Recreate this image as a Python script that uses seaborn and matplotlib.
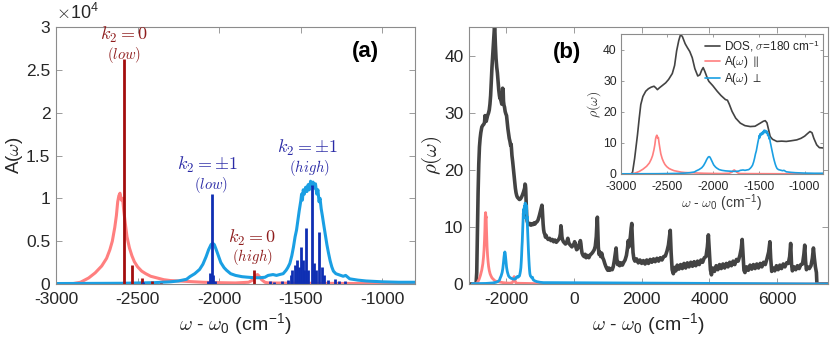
import numpy as np
import seaborn as sns
import matplotlib.pyplot as plt

# ---- panel (a): spectra in units of 1e4 ----
par_x = [-3000, -2900, -2850, -2800, -2760, -2720, -2690, -2670, -2655, -2640, -2630, -2622, -2615,
         -2608, -2600, -2592, -2585, -2575, -2565, -2550, -2535, -2520, -2500, -2475, -2450, -2420,
         -2380, -2340, -2300, -2250, -2200, -2100, -2000, -1900, -1820, -1790, -1775, -1765, -1755,
         -1740, -1720, -1700, -1600, -1400, -1200, -1000, -800, 7500]
par_y = [0, 0.003, 0.02, 0.07, 0.13, 0.21, 0.3, 0.4, 0.5, 0.66, 0.8, 0.96, 1.03,
         1.06, 0.98, 1.0, 0.86, 0.7, 0.55, 0.42, 0.33, 0.26, 0.2, 0.15, 0.12, 0.09,
         0.07, 0.05, 0.04, 0.035, 0.03, 0.02, 0.015, 0.012, 0.02, 0.05, 0.1, 0.11, 0.09,
         0.05, 0.02, 0.012, 0.01, 0.008, 0.006, 0.005, 0.005, 0.0]

perp_x = [-3000, -2600, -2400, -2300, -2250, -2200, -2180, -2150, -2120, -2100, -2080, -2065, -2050,
          -2040, -2030, -2020, -2005, -1990, -1970, -1955, -1930, -1900, -1860, -1832, -1800, -1760,
          -1720, -1700, -1670, -1649, -1630, -1608, -1590, -1580, -1567, -1555, -1545, -1535, -1526,
          -1518, -1510, -1500, -1495, -1490, -1485, -1478, -1470, -1462, -1455, -1448, -1440, -1432,
          -1425, -1418, -1410, -1402, -1395, -1388, -1382, -1375, -1368, -1360, -1350, -1340, -1330,
          -1320, -1310, -1300, -1285, -1270, -1255, -1240, -1225, -1200, -1150, -1100, -1000, -900,
          -800, 7500]
perp_y = [0.005, 0.008, 0.015, 0.025, 0.035, 0.055, 0.085, 0.12, 0.17, 0.23, 0.32, 0.4, 0.46,
          0.475, 0.46, 0.41, 0.33, 0.25, 0.19, 0.16, 0.12, 0.1, 0.085, 0.08, 0.075, 0.072,
          0.078, 0.1, 0.11, 0.1, 0.11, 0.12, 0.16, 0.19, 0.24, 0.33, 0.43, 0.55, 0.63,
          0.74, 0.85, 0.97, 1.05, 0.98, 1.1, 1.05, 1.13, 1.08, 1.16, 1.1, 1.2, 1.15,
          1.19, 1.12, 1.17, 1.05, 1.1, 0.96, 1.0, 0.88, 0.8, 0.7, 0.58, 0.46, 0.36,
          0.27, 0.2, 0.15, 0.12, 0.11, 0.1, 0.09, 0.1, 0.06, 0.045, 0.035, 0.025, 0.02,
          0.02, 0.0]

# stick spectra (units of 1e4)
red_stick_x = [-2584, -2533, -2476, -2414, -2355, -1787]
red_stick_h = [2.63, 0.22, 0.067, 0.03, 0.012, 0.163]
blue_stick_x = [-2469, -2066, -2057, -2047, -2037, -2027, -1690, -1663, -1615, -1580, -1563, -1551,
                -1536, -1522, -1510, -1500, -1489, -1479, -1465, -1455, -1434, -1418, -1404, -1390,
                -1373, -1359, -1333, -1290, -1265, -1230]
blue_stick_h = [0.02, 0.03, 0.13, 1.05, 0.1, 0.04, 0.04, 0.02, 0.03, 0.05, 0.105, 0.163,
                0.22, 0.28, 0.2, 0.435, 0.28, 0.16, 0.65, 0.16, 1.16, 0.24, 0.16, 0.61,
                0.2, 0.1, 0.05, 0.06, 0.04, 0.03]

# conversion of A(w) (x1e4) into rho(w) units used in panel (b)
A_TO_RHO = 11.8

# ---- panel (b): density of states ----
dos_x = [-3100, -2890, -2870, -2850, -2830, -2810, -2790, -2770, -2750, -2720, -2690, -2660, -2640,
         -2625, -2615, -2605, -2590, -2570, -2550, -2520, -2500, -2480, -2460, -2440, -2420, -2400,
         -2385, -2370, -2355, -2345, -2335, -2320, -2300, -2280, -2260, -2240, -2220, -2200, -2185,
         -2170, -2150, -2130, -2115, -2105, -2098, -2090, -2080, -2065, -2050, -2030, -2010, -1990,
         -1970, -1950, -1930, -1910, -1890, -1870, -1855, -1845, -1830, -1810, -1790, -1770, -1750,
         -1730, -1710, -1690, -1670, -1640, -1610, -1580, -1550, -1520, -1490, -1470, -1455, -1445,
         -1435, -1425, -1415, -1405, -1395, -1380, -1360, -1330, -1300, -1270, -1240, -1210, -1180,
         -1150, -1120, -1090, -1060, -1040, -1020, -1000, -980, -960, -945, -935, -925, -910,
         -895, -880, -860, -840, -820, -800, -760, -720, -680, -640, -600, -560, -520,
         -480, -450, -420, -400, -385, -370, -355, -340, -310, -280, -250, -220, -200,
         -180, -165, -150, -120, -90, -60, -30, 0, 20, 40, 60, 80, 100,
         130, 160, 190, 205, 220, 240, 270, 300, 330, 360, 400, 440, 480,
         520, 560, 600, 630, 660, 680, 692, 705, 720, 740, 760, 790, 820,
         850, 880, 910, 940, 970, 1000, 1030, 1060, 1100, 1130, 1160, 1190, 1220,
         1245, 1265, 1290, 1320, 1350, 1390, 1430, 1470, 1510, 1550, 1580, 1605, 1625,
         1645, 1670, 1690, 1708, 1725, 1745, 1770, 1800, 1850, 1900, 1950, 2000, 2050,
         2100, 2150, 2200, 2250, 2300, 2350, 2400, 2450, 2500, 2550, 2600, 2650, 2700,
         2750, 2790, 2820, 2844, 2870, 2900, 2935, 2970, 3010, 3050, 3100, 3150, 3200,
         3250, 3300, 3350, 3400, 3450, 3500, 3550, 3600, 3650, 3700, 3750, 3800, 3850,
         3900, 3940, 3970, 4000, 4030, 4060, 4100, 4150, 4200, 4250, 4300, 4350, 4400,
         4450, 4500, 4550, 4600, 4650, 4700, 4750, 4800, 4850, 4900, 4940, 4968, 4995,
         5020, 5050, 5100, 5150, 5200, 5250, 5300, 5350, 5400, 5450, 5500, 5550, 5600,
         5650, 5700, 5750, 5787, 5810, 5840, 5880, 5930, 5980, 6030, 6080, 6130, 6180,
         6230, 6280, 6330, 6370, 6400, 6425, 6450, 6500, 6550, 6600, 6650, 6700, 6750,
         6790, 6815, 6840, 6865, 6900, 6950, 7000, 7040, 7072, 7100, 7130, 7160, 7175,
         7500]
dos_y = [0, 0, 2, 9, 16, 21, 24, 25.5, 26.5, 27.5, 27.8, 28, 28.3,
         29.5, 28.5, 29.3, 28.5, 29, 29.5, 30, 30.5, 31.5, 33, 35.5, 38, 40,
         41.5, 43, 44.5, 45.2, 44.5, 42, 39.5, 38, 37, 35.5, 34, 33, 32.5,
         32.8, 32, 31.5, 32.5, 34.3, 33.8, 34, 32, 31.3, 31, 30.2, 29.8, 29.5,
         28.3, 27.2, 26.3, 25.5, 25, 24.3, 24.5, 23.8, 22.5, 21.5, 20.3, 19, 17.8,
         16.8, 16, 15.5, 15.2, 15, 14.8, 14.9, 15.2, 15.6, 16.1, 16.5, 16.8, 17.5,
         17.4, 16.8, 15, 13, 11.8, 11, 10.6, 10.4, 10.6, 10.3, 10.5, 10.4, 10.7,
         10.5, 10.8, 10.9, 11.2, 11.6, 12, 12.5, 13, 13.5, 13.8, 13.2, 12, 10.5,
         9.5, 9, 8.7, 8.2, 8.5, 8.1, 7.8, 8, 7.6, 7.8, 7.4, 7.7, 7.3,
         7.6, 7.8, 8.2, 8.8, 10.2, 9.5, 8.3, 7.8, 7.4, 7.2, 7, 7.2, 7.6,
         8, 7.6, 7.2, 6.9, 6.7, 6.5, 6.8, 7, 7.4, 7.1, 6.4, 6, 6.1,
         6.4, 7, 7.6, 7.1, 6.2, 5.4, 5, 4.8, 5.2, 4.6, 5, 4.6, 5.1,
         5.3, 5.6, 6, 6.6, 8.3, 10.8, 11.7, 9.5, 6.5, 5.2, 5.6, 4.8, 5.4,
         4.6, 4.2, 3.6, 3.1, 2.7, 2.4, 2.8, 2.4, 2.7, 2.5, 3, 4, 5.3,
         6.3, 4.5, 3.4, 3.8, 3.2, 3.7, 3.3, 3.8, 4.2, 5, 6.2, 7.6, 6.5,
         7.2, 8.5, 9.8, 10.6, 8, 5.5, 4.4, 4, 4.4, 3.7, 4.2, 3.6, 4.1,
         3.5, 4.2, 3.6, 4.3, 3.8, 4.4, 3.9, 4.5, 4, 4.6, 4.2, 4.8, 4.9,
         5.8, 6.8, 8.2, 9.4, 5.5, 2.5, 1.8, 2.9, 2.3, 3.3, 2.6, 3.4, 2.7,
         3.6, 2.8, 3.7, 3, 3.8, 3.1, 3.9, 3.2, 4, 3.4, 4.2, 3.8, 4.6,
         4.8, 6.5, 8.6, 5.5, 2.5, 1.6, 2.8, 2.2, 3.2, 2.5, 3.4, 2.7, 3.5,
         2.8, 3.6, 3, 3.8, 3.2, 4, 3.4, 4.3, 4, 5, 6.2, 7.8, 5,
         2.4, 2, 3, 2.4, 3.3, 2.6, 3.4, 2.7, 3.5, 2.8, 3.6, 3, 3.8,
         3.4, 4.4, 5.6, 7.4, 4.5, 2.2, 2.8, 2.3, 3.2, 2.5, 3.3, 2.7, 3.5,
         3, 3.7, 3.6, 4.8, 7.1, 3.5, 2.3, 3, 2.5, 3.2, 2.7, 3.4, 3.5,
         5.2, 6.8, 4, 2.5, 3, 2.7, 3.2, 4.5, 6.3, 4.5, 3, 2, 0,
         0]

# inset: DOS smoothed with sigma = 180 cm-1
dos_s_x = [-3000, -2890, -2873, -2850, -2819, -2800, -2783, -2760, -2729, -2700, -2670, -2639, -2620,
           -2602, -2580, -2550, -2512, -2480, -2440, -2415, -2393, -2370, -2350, -2330, -2300, -2277,
           -2250, -2223, -2195, -2163, -2140, -2120, -2104, -2085, -2060, -2043, -2000, -1952, -1910,
           -1862, -1840, -1820, -1790, -1750, -1700, -1650, -1592, -1540, -1483, -1450, -1429, -1410,
           -1390, -1375, -1350, -1302, -1250, -1200, -1150, -1086, -1040, -1000, -970, -942, -920,
           -900, -869, -840, -800]
dos_s_y = [0, 0, 0.5, 5, 12.6, 18, 22.4, 25, 26.7, 27.5, 28, 28.3, 27.8,
           27.2, 27.8, 28.5, 29.4, 30.5, 32.4, 35, 39.7, 43, 45, 44.3, 42, 40.8,
           39.5, 37.5, 34, 31.6, 32, 33.5, 34.3, 33, 31, 29.9, 28.5, 26.7, 25.3,
           24, 23.8, 22.5, 20.2, 18, 16.4, 15.6, 15.3, 15.4, 16.4, 17, 17.2, 16.5,
           14, 12.1, 11.2, 10.5, 10.6, 10.5, 10.7, 11, 11.5, 12.2, 13, 13.7, 13.3,
           11.5, 9.4, 8.5, 8.4]

a_yticks = [0, 0.5, 1, 1.5, 2, 2.5, 3]
a_ytick_labels = ['0', '0.5', '1', '1.5', '2', '2.5', '3']
a_xticks = [-3000, -2500, -2000, -1500, -1000]
b_xticks = [-2000, 0, 2000, 4000, 6000]
b_yticks = [0, 10, 20, 30, 40]
inset_xticks = [-3000, -2500, -2000, -1500, -1000]

C_PAR = '#ff7f7f'
C_PERP = '#1a9fe3'
C_DOS = '#434343'
C_RED_STICK = '#a30d0d'
C_BLUE_STICK = '#0f2fb3'
C_RED_TXT = '#8f1d1d'
C_BLUE_TXT = '#2a2aa6'

sns.set_theme(style='white')
plt.rcParams['font.family'] = ['Liberation Sans', 'DejaVu Sans']
plt.rcParams['mathtext.fontset'] = 'cm'
plt.rcParams['axes.unicode_minus'] = False
plt.rcParams['axes.edgecolor'] = '#8c8c8c'
plt.rcParams['axes.linewidth'] = 0.8


def style_axes(ax, size, length, pad=4):
    ax.tick_params(direction='in', length=length, width=0.6, color='#8c8c8c',
                   labelsize=size, labelcolor='#262626', top=True, right=True,
                   bottom=True, left=True, pad=pad)
    for s in ax.spines.values():
        s.set_visible(True)
        s.set_color('#8c8c8c')


XLABEL = r'$\omega$ - $\omega_{\mathregular{0}}$ (cm$^{\mathregular{-1}}$)'

fig = plt.figure(figsize=(8.3, 3.48), dpi=100)

# ---------------- panel (a) ----------------
ax1 = fig.add_axes([0.0675, 0.184, 0.4325, 0.738])
sns.lineplot(x=par_x, y=par_y, ax=ax1, color=C_PAR, lw=2.2, estimator=None)
sns.lineplot(x=perp_x, y=perp_y, ax=ax1, color=C_PERP, lw=2.2, estimator=None)
ax1.vlines(red_stick_x, 0, red_stick_h, colors=C_RED_STICK, lw=2.0)
ax1.vlines(blue_stick_x, 0, blue_stick_h, colors=C_BLUE_STICK, lw=2.0)
ax1.set_xlim(-3000, -800)
ax1.set_ylim(0, 3)
ax1.set_xticks(a_xticks)
ax1.set_yticks(a_yticks)
ax1.set_yticklabels(a_ytick_labels)
style_axes(ax1, 12.5, 4)
ax1.tick_params(axis='x', pad=6)
ax1.set_xlabel(XLABEL, fontsize=14, color='#262626', labelpad=3)
ax1.set_ylabel(r'A($\omega$)', fontsize=13.5, color='#262626', labelpad=1)
ax1.text(0.0, 1.015, r'$\times\mathregular{10^4}$', transform=ax1.transAxes,
         fontsize=13, color='#262626', ha='left', va='bottom')
ax1.text(0.863, 0.905, '(a)', transform=ax1.transAxes, fontsize=16,
         fontweight='bold', ha='center', va='center', color='black')

ax1.text(-2584, 2.91, r'$k_2 = 0$', color=C_RED_TXT, fontsize=13, ha='center', va='center')
ax1.text(-2584, 2.68, r'$(low)$', color=C_RED_TXT, fontsize=10.5, ha='center', va='center')
ax1.text(-2075, 1.39, r'$k_2 = \pm1$', color=C_BLUE_TXT, fontsize=13, ha='center', va='center')
ax1.text(-2050, 1.16, r'$(low)$', color=C_BLUE_TXT, fontsize=10.5, ha='center', va='center')
ax1.text(-1460, 1.585, r'$k_2 = \pm1$', color=C_BLUE_TXT, fontsize=13, ha='center', va='center')
ax1.text(-1450, 1.36, r'$(high)$', color=C_BLUE_TXT, fontsize=10.5, ha='center', va='center')
ax1.text(-1800, 0.535, r'$k_2 = 0$', color=C_RED_TXT, fontsize=13, ha='center', va='center')
ax1.text(-1795, 0.31, r'$(high)$', color=C_RED_TXT, fontsize=10.5, ha='center', va='center')

# ---------------- panel (b) ----------------
ax2 = fig.add_axes([0.565, 0.184, 0.4325, 0.738])
sns.lineplot(x=dos_x, y=dos_y, ax=ax2, color=C_DOS, lw=2.6, estimator=None)
sns.lineplot(x=par_x, y=[v * A_TO_RHO for v in par_y], ax=ax2, color=C_PAR, lw=2.0, estimator=None)
sns.lineplot(x=perp_x, y=[v * A_TO_RHO for v in perp_y], ax=ax2, color=C_PERP, lw=2.0, estimator=None)
ax2.set_xlim(-3100, 7500)
ax2.set_ylim(0, 45)
ax2.set_xticks(b_xticks)
ax2.set_yticks(b_yticks)
style_axes(ax2, 12.5, 4)
ax2.tick_params(axis='x', pad=6)
ax2.set_xlabel(XLABEL, fontsize=14, color='#262626', labelpad=3)
ax2.set_ylabel(r'$\rho(\omega)$', fontsize=15, color='#262626', labelpad=0)
ax2.text(0.273, 0.903, '(b)', transform=ax2.transAxes, fontsize=16,
         fontweight='bold', ha='center', va='center', color='black')

# ---------------- inset ----------------
ax3 = fig.add_axes([0.748, 0.5, 0.2436, 0.401])
sns.lineplot(x=dos_s_x, y=dos_s_y, ax=ax3, color=C_DOS, lw=1.2, estimator=None,
             label=r'DOS, $\sigma$=180 cm$^{\mathregular{-1}}$')
sns.lineplot(x=par_x, y=[v * A_TO_RHO for v in par_y], ax=ax3, color=C_PAR, lw=1.2,
             estimator=None, label=r'A($\omega$) $\parallel$')
sns.lineplot(x=perp_x, y=[v * A_TO_RHO for v in perp_y], ax=ax3, color=C_PERP, lw=1.2,
             estimator=None, label=r'A($\omega$) $\perp$')
ax3.set_xlim(-3000, -800)
ax3.set_ylim(0, 45)
ax3.set_xticks(inset_xticks)
ax3.set_yticks(b_yticks)
style_axes(ax3, 8.7, 2.5, pad=2)
ax3.tick_params(axis='x', pad=5)
ax3.tick_params(axis='y', pad=3)
ax3.set_xlabel(XLABEL, fontsize=10, color='#3a3a3a', labelpad=0)
ax3.set_ylabel(r'$\rho(\omega)$', fontsize=10, color='#3a3a3a', labelpad=0)
ax3.legend(loc='upper right', frameon=False, fontsize=8.5, handlelength=1.3,
           handletextpad=0.3, labelspacing=0.05, borderaxespad=0.1, borderpad=0.2)

fig.savefig('out.png', dpi=100)
